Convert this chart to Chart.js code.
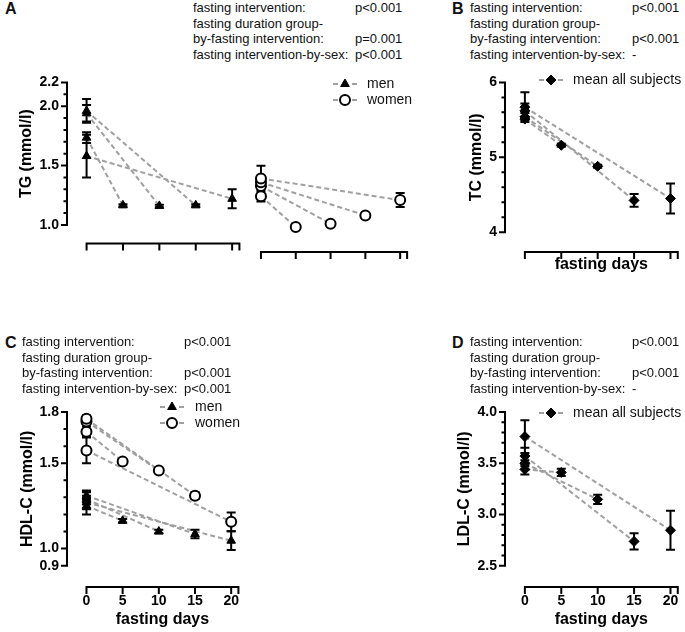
<!DOCTYPE html>
<html>
<head>
<meta charset="utf-8">
<title>Lipids during fasting</title>
<script src="https://cdn.jsdelivr.net/npm/chart.js@4.4.0/dist/chart.umd.min.js"></script>
<style>
  body { margin: 0; background: #fff; width: 685px; height: 632px; overflow: hidden; position: relative;
         font-family: "Liberation Sans", Arial, sans-serif; color: #111; }
  .wrap { position: absolute; }
  .wrap canvas { display: block; }
  .letter { position: absolute; font-weight: bold; font-size: 16px; line-height: 16px; z-index: 2; }
  .stats { position: absolute; font-size: 13px; line-height: 15.5px; z-index: 2; }
  .stats div { position: relative; white-space: pre; height: 15.5px; }
  .stats span { position: absolute; top: 0; }
</style>
</head>
<body>

<div class="wrap" id="panelAmen"><canvas></canvas></div>
<div class="wrap" id="panelAwomen"><canvas></canvas></div>
<div class="wrap" id="panelB"><canvas></canvas></div>
<div class="wrap" id="panelC"><canvas></canvas></div>
<div class="wrap" id="panelD"><canvas></canvas></div>

<div class="letter" style="left:5px;top:1px">A</div>
<div class="letter" style="left:452px;top:1px">B</div>
<div class="letter" style="left:5px;top:335px">C</div>
<div class="letter" style="left:452px;top:335px">D</div>

<div class="stats" id="statsA" style="left:193px;top:0px"></div>
<div class="stats" id="statsB" style="left:470px;top:0px"></div>
<div class="stats" id="statsC" style="left:22px;top:334px"></div>
<div class="stats" id="statsD" style="left:470px;top:334px"></div>

<script>
// ---------- data ----------
const xTicks = [0, 5, 10, 15, 20];
const groupDays = [5, 10, 15, 20];   // fasting duration groups, baseline is day 0

// A - TG (mmol/l), men and women
const tgTicks = [1.0, 1.5, 2.0, 2.2];
const tgMenBase = [1.735, 1.94, 1.96, 1.58];
const tgMenBaseErr = [0.045, 0.07, 0.1, 0.18];
const tgMenEnd = [1.165, 1.16, 1.165, 1.22];
const tgMenEndErr = [0.01, 0.01, 0.01, 0.08];
const tgWomenBase = [1.28, 1.36, 1.39, 1.42];
const tgWomenBaseErr = [0.04, 0.03, 0.03, 0.1];
const tgWomenEnd = [1.04, 1.065, 1.13, 1.25];
const tgWomenEndErr = [0.01, 0.01, 0.01, 0.055];

// B - TC (mmol/l), mean all subjects
const tcTicks = [4, 5, 6];
const tcBase = [5.51, 5.54, 5.62, 5.67];
const tcBaseErr = [0.03, 0.05, 0.1, 0.2];
const tcEnd = [5.16, 4.88, 4.425, 4.45];
const tcEndErr = [0.02, 0.02, 0.085, 0.2];

// C - HDL-C (mmol/l), men and women
const hdlTicks = [0.9, 1.0, 1.5, 1.8];
const hdlMenBase = [1.25, 1.29, 1.31, 1.27];
const hdlMenBaseErr = [0.02, 0.02, 0.02, 0.07];
const hdlMenEnd = [1.163, 1.10, 1.085, 1.046];
const hdlMenEndErr = [0.01, 0.01, 0.025, 0.055];
const hdlWomenBase = [1.685, 1.745, 1.76, 1.575];
const hdlWomenBaseErr = [0.03, 0.03, 0.02, 0.075];
const hdlWomenEnd = [1.51, 1.457, 1.31, 1.157];
const hdlWomenEndErr = [0.01, 0.01, 0.02, 0.055];

// D - LDL-C (mmol/l), mean all subjects
const ldlTicks = [2.5, 3.0, 3.5, 4.0];
const ldlBase = [3.44, 3.50, 3.57, 3.76];
const ldlBaseErr = [0.05, 0.03, 0.08, 0.16];
const ldlEnd = [3.41, 3.147, 2.737, 2.846];
const ldlEndErr = [0.035, 0.045, 0.08, 0.19];

// statistics text
const statLabels = ['fasting intervention:', 'fasting duration group-', 'by-fasting intervention:', 'fasting intervention-by-sex:'];
const statsA = ['p<0.001', '', 'p=0.001', 'p<0.001'];
const statsB = ['p<0.001', '', 'p<0.001', '-'];
const statsC = ['p<0.001', '', 'p<0.001', 'p<0.001'];
const statsD = ['p<0.001', '', 'p<0.001', '-'];

// ---------- styles ----------
const FONT = '"Liberation Sans", Arial, sans-serif';
Chart.defaults.font.family = FONT;
Chart.defaults.color = '#000';

const menStyle = { pointStyle: 'triangle', pointRadius: 5, backgroundColor: '#000', borderColor: '#000', borderWidth: 1 };
const womenStyle = { pointStyle: 'circle', pointRadius: 5, backgroundColor: '#fff', borderColor: '#000', borderWidth: 2 };
const allStyle = { pointStyle: 'rectRot', pointRadius: 5, backgroundColor: '#000', borderColor: '#000', borderWidth: 1 };

// one dashed line per duration group + one point set carrying error bars
function groupSets(label, base, baseErr, end, endErr, style) {
  const sets = groupDays.map((d, i) => ({
    data: [{ x: 0, y: base[i] }, { x: d, y: end[i] }],
    showLine: true, borderColor: '#a0a0a0', borderWidth: 2, borderDash: [5, 3],
    pointRadius: 0, order: 2, clip: false
  }));
  sets.push(Object.assign({
    label: label,
    data: base.map(v => ({ x: 0, y: v })).concat(end.map((v, i) => ({ x: groupDays[i], y: v }))),
    errors: baseErr.concat(endErr),
    showLine: false, order: 1, clip: false
  }, style));
  return sets;
}

function fillStats(id, values) {
  const el = document.getElementById(id);
  statLabels.forEach((t, i) => {
    const row = document.createElement('div');
    row.textContent = t;
    if (values[i]) {
      const s = document.createElement('span');
      s.style.left = '162px';
      s.textContent = values[i];
      row.appendChild(s);
    }
    el.appendChild(row);
  });
}

// Prism style axes: offset lines, major + minor ticks, titles
function axesPlugin(cfg) {
  return {
    id: 'prismAxes',
    beforeDatasetsDraw(chart) {
      const { ctx, chartArea, scales: { x, y } } = chart;
      const b = cfg.box;
      ctx.save();
      ctx.strokeStyle = '#000';
      ctx.lineWidth = 2;
      if (cfg.yTicks) {
        const ax = chartArea.left;
        const lo = cfg.yTicks[0], hi = cfg.yTicks[cfg.yTicks.length - 1];
        const y0 = y.getPixelForValue(lo), y1 = y.getPixelForValue(hi);
        ctx.beginPath();
        ctx.moveTo(ax, y0 + 1);
        ctx.lineTo(ax, y1 - 1);
        cfg.yTicks.forEach(v => {
          const py = y.getPixelForValue(v);
          ctx.moveTo(ax - 6, py); ctx.lineTo(ax, py);
        });
        const n = Math.round((hi - lo) / cfg.yMinor);
        for (let i = 1; i < n; i++) {
          const v = lo + i * cfg.yMinor;
          if (cfg.yTicks.some(t => Math.abs(t - v) < 1e-6)) continue;
          const py = y.getPixelForValue(v);
          ctx.moveTo(ax - 3.5, py); ctx.lineTo(ax, py);
        }
        ctx.stroke();
        // y title centred on the axis line
        ctx.save();
        ctx.font = 'bold 16px ' + FONT;
        ctx.fillStyle = '#000';
        ctx.textAlign = 'center';
        ctx.textBaseline = 'middle';
        ctx.translate(cfg.yTitleX - b.left, (y0 + y1) / 2);
        ctx.rotate(-Math.PI / 2);
        ctx.fillText(cfg.yTitle, 0, 0);
        ctx.restore();
      }
      const ay = chartArea.bottom;
      const x0 = x.getPixelForValue(0), x1 = x.getPixelForValue(cfg.xEnd);
      ctx.beginPath();
      ctx.moveTo(x0 - 1, ay);
      ctx.lineTo(x1 + 1, ay);
      xTicks.concat([cfg.xEnd]).forEach(v => {
        const px = x.getPixelForValue(v);
        ctx.moveTo(px, ay); ctx.lineTo(px, ay + 7);
      });
      ctx.stroke();
      if (cfg.xTitle) {
        ctx.font = 'bold 16px ' + FONT;
        ctx.fillStyle = '#000';
        ctx.textAlign = 'center';
        ctx.textBaseline = 'middle';
        ctx.fillText(cfg.xTitle, (x0 + x1) / 2, cfg.xTitleY - b.top);
      }
      ctx.restore();
    }
  };
}

const errorBarPlugin = {
  id: 'errorBars',
  beforeDatasetDraw(chart, args) {
    const ds = chart.data.datasets[args.index];
    if (!ds.errors) return;
    const { ctx, scales: { x, y } } = chart;
    ctx.save();
    ctx.strokeStyle = '#000';
    ctx.lineWidth = 2;
    ctx.beginPath();
    ds.data.forEach((p, i) => {
      const e = ds.errors[i];
      if (!e) return;
      const px = x.getPixelForValue(p.x);
      const top = y.getPixelForValue(p.y + e), bot = y.getPixelForValue(p.y - e);
      ctx.moveTo(px, top); ctx.lineTo(px, bot);
      ctx.moveTo(px - 4.5, top); ctx.lineTo(px + 4.5, top);
      ctx.moveTo(px - 4.5, bot); ctx.lineTo(px + 4.5, bot);
    });
    ctx.stroke();
    ctx.restore();
  }
};

// legend rows: dash - marker - dash, then label
function legendPlugin(cfg) {
  return {
    id: 'prismLegend',
    afterDatasetsDraw(chart) {
      if (!cfg.legend) return;
      const { ctx } = chart;
      const b = cfg.box;
      const sets = chart.data.datasets.filter(d => d.label);
      sets.forEach((ds, i) => {
        const lx = cfg.legend.x - b.left, ly = cfg.legend.y + i * cfg.legend.step - b.top;
        ctx.save();
        ctx.strokeStyle = '#a0a0a0';
        ctx.lineWidth = 2;
        ctx.beginPath();
        ctx.moveTo(lx - 12, ly); ctx.lineTo(lx - 7, ly);
        ctx.moveTo(lx + 7, ly); ctx.lineTo(lx + 12, ly);
        ctx.stroke();
        ctx.fillStyle = ds.backgroundColor;
        ctx.strokeStyle = ds.borderColor;
        ctx.lineWidth = ds.borderWidth;
        Chart.helpers.drawPoint(ctx, { pointStyle: ds.pointStyle, radius: ds.pointRadius, borderWidth: ds.borderWidth, rotation: 0 }, lx, ly);
        ctx.fillStyle = '#111';
        ctx.font = '14px ' + FONT;
        ctx.textAlign = 'left';
        ctx.textBaseline = 'middle';
        ctx.fillText(ds.label, cfg.legend.textX - b.left, ly);
        ctx.restore();
      });
    }
  };
}

function makePanel(id, cfg) {
  const b = cfg.box, a = cfg.area;
  const wrap = document.getElementById(id);
  wrap.style.left = b.left + 'px';
  wrap.style.top = b.top + 'px';
  const canvas = wrap.querySelector('canvas');
  canvas.width = b.width; canvas.height = b.height;
  canvas.style.width = b.width + 'px'; canvas.style.height = b.height + 'px';
  const showY = !!cfg.yTicks;
  return new Chart(canvas, {
    type: 'scatter',
    data: { datasets: cfg.datasets },
    options: {
      responsive: false,
      animation: false,
      devicePixelRatio: 1,
      events: [],
      layout: { padding: { left: showY ? 0 : a.l - b.left, top: a.t - b.top, right: b.left + b.width - a.r, bottom: 0 } },
      plugins: { legend: { display: false }, tooltip: { enabled: false } },
      scales: {
        x: {
          type: 'linear', min: cfg.xMin, max: cfg.xMax,
          grid: { display: false, drawTicks: false }, border: { display: false },
          ticks: { display: !!cfg.xLabels, padding: 6, autoSkip: false, maxRotation: 0,
                   font: { size: 14, weight: 'bold' }, color: '#000', callback: v => String(v) },
          afterBuildTicks: s => { s.ticks = xTicks.map(v => ({ value: v })); },
          afterFit: s => { s.height = b.top + b.height - a.b; }
        },
        y: {
          display: showY, type: 'linear', min: cfg.yMin, max: cfg.yMax,
          grid: { display: false, drawTicks: false }, border: { display: false },
          ticks: { padding: 8, autoSkip: false, font: { size: 14, weight: 'bold' }, color: '#000',
                   callback: v => v.toFixed(cfg.yDigits) },
          afterBuildTicks: s => { if (showY) s.ticks = cfg.yTicks.map(v => ({ value: v })); },
          afterFit: s => { s.width = a.l - b.left; }
        }
      }
    },
    plugins: [axesPlugin(cfg), errorBarPlugin, legendPlugin(cfg)]
  });
}

fillStats('statsA', statsA);
fillStats('statsB', statsB);
fillStats('statsC', statsC);
fillStats('statsD', statsD);

// A - men half (with y axis)
makePanel('panelAmen', {
  box: { left: 0, top: 66, width: 246, height: 194 }, area: { l: 67, t: 79, r: 241, b: 252 },
  xMin: -2.69, xMax: 21.08, xEnd: 21, yMin: 0.843, yMax: 2.2,
  yTicks: tgTicks, yMinor: 0.1, yDigits: 1, yTitle: 'TG (mmol/l)', yTitleX: 27,
  datasets: groupSets('men', tgMenBase, tgMenBaseErr, tgMenEnd, tgMenEndErr, menStyle)
});
// A - women half (shares y range) + legend for both sexes
makePanel('panelAwomen', {
  box: { left: 246, top: 66, width: 170, height: 194 }, area: { l: 250, t: 79, r: 413, b: 252 },
  xMin: -1.0, xMax: 21.27, xEnd: 21, yMin: 0.843, yMax: 2.2,
  legend: { x: 345, y: 84, step: 16, textX: 367 },
  datasets: groupSets('men', [], [], [], [], menStyle).slice(-1)
    .concat(groupSets('women', tgWomenBase, tgWomenBaseErr, tgWomenEnd, tgWomenEndErr, womenStyle))
});
// B - TC
makePanel('panelB', {
  box: { left: 440, top: 66, width: 245, height: 206 }, area: { l: 505, t: 78, r: 680, b: 252 },
  xMin: -2.73, xMax: 21.17, xEnd: 21, yMin: 3.736, yMax: 6,
  yTicks: tcTicks, yMinor: 0.2, yDigits: 0, yTitle: 'TC (mmol/l)', yTitleX: 477,
  xTitle: 'fasting days', xTitleY: 265,
  legend: { x: 551, y: 80, step: 16, textX: 573 },
  datasets: groupSets('mean all subjects', tcBase, tcBaseErr, tcEnd, tcEndErr, allStyle)
});
// C - HDL-C
makePanel('panelC', {
  box: { left: 0, top: 392, width: 246, height: 240 }, area: { l: 67, t: 412, r: 241, b: 587 },
  xMin: -2.69, xMax: 21.08, xEnd: 21, yMin: 0.775, yMax: 1.8, xLabels: true,
  yTicks: hdlTicks, yMinor: 0.1, yDigits: 1, yTitle: 'HDL-C (mmol/l)', yTitleX: 28,
  xTitle: 'fasting days', xTitleY: 620,
  legend: { x: 172, y: 407, step: 16, textX: 195 },
  datasets: groupSets('men', hdlMenBase, hdlMenBaseErr, hdlMenEnd, hdlMenEndErr, menStyle)
    .concat(groupSets('women', hdlWomenBase, hdlWomenBaseErr, hdlWomenEnd, hdlWomenEndErr, womenStyle))
});
// D - LDL-C
makePanel('panelD', {
  box: { left: 440, top: 392, width: 245, height: 240 }, area: { l: 505, t: 412, r: 680, b: 587 },
  xMin: -2.73, xMax: 21.17, xEnd: 21, yMin: 2.292, yMax: 4.0, xLabels: true,
  yTicks: ldlTicks, yMinor: 0.1, yDigits: 1, yTitle: 'LDL-C (mmol/l)', yTitleX: 465,
  xTitle: 'fasting days', xTitleY: 620,
  legend: { x: 551, y: 413, step: 16, textX: 573 },
  datasets: groupSets('mean all subjects', ldlBase, ldlBaseErr, ldlEnd, ldlEndErr, allStyle)
});
</script>
</body>
</html>
